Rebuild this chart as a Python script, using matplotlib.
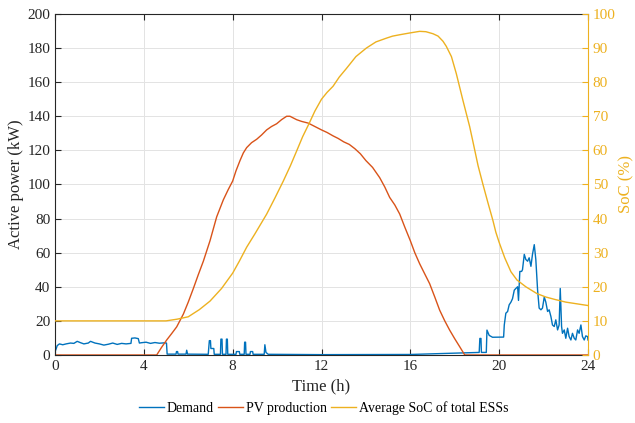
import matplotlib
matplotlib.use("Agg")
import matplotlib.pyplot as plt

plt.rcParams['font.family'] = ['Liberation Serif', 'DejaVu Serif']

# --- data ---
# demand (kW)
t_dem = [0.0, 0.05, 0.1, 0.2, 0.35, 0.5, 0.7, 0.85, 1.0, 1.15, 1.3, 1.5, 1.6, 1.8,
         2.0, 2.2, 2.4, 2.6, 2.8, 3.0, 3.2, 3.42, 3.45, 3.6, 3.75, 3.8, 3.9, 4.1,
         4.3, 4.5, 4.7, 4.9, 5.02, 5.05, 5.45, 5.47, 5.52, 5.54, 5.9, 5.93, 5.97,
         6.9, 6.95, 7.0, 7.02, 7.15, 7.17, 7.45, 7.47, 7.52, 7.54, 7.70, 7.72, 7.76,
         7.78, 8.15, 8.17, 8.30, 8.32, 8.52, 8.54, 8.58, 8.6, 8.78, 8.8, 8.9, 8.92,
         9.42, 9.45, 9.5, 9.6, 12.0, 16.0, 17.5, 18.5, 19.1, 19.13, 19.18, 19.2,
         19.42, 19.45, 19.55, 19.7, 20.2, 20.23, 20.30, 20.38, 20.45, 20.53, 20.60,
         20.68, 20.75, 20.83, 20.87, 20.93, 21.01, 21.05, 21.13, 21.20, 21.28, 21.35,
         21.43, 21.50, 21.58, 21.65, 21.73, 21.80, 21.88, 21.95, 22.03, 22.10, 22.18,
         22.25, 22.33, 22.40, 22.48, 22.55, 22.63, 22.70, 22.75, 22.81, 22.85, 22.93,
         23.00, 23.08, 23.15, 23.23, 23.30, 23.38, 23.45, 23.53, 23.60, 23.68, 23.75,
         23.83, 23.90, 23.98, 24.0]
demand = [2.0, 3.5, 5.5, 6.5, 6.0, 6.5, 7.0, 6.8, 8.0, 7.2, 6.5, 7.0, 8.0, 7.0,
          6.5, 5.8, 6.3, 7.0, 6.2, 6.8, 6.5, 6.8, 9.8, 10.0, 9.6, 7.0, 7.2, 7.5,
          6.8, 7.3, 6.9, 7.1, 7.0, 0.5, 0.5, 2.0, 2.0, 0.5, 0.5, 2.8, 0.5,
          0.4, 8.4, 8.4, 3.8, 3.8, 0.4, 0.4, 9.3, 9.3, 0.4, 0.4, 9.3, 9.3,
          0.4, 0.4, 2.0, 2.0, 0.4, 0.4, 7.5, 7.5, 0.4, 0.4, 2.0, 2.0, 0.4,
          0.4, 6.0, 1.5, 0.4, 0.2, 0.3, 0.9, 1.3, 1.5, 9.7, 9.7, 1.5,
          1.5, 14.6, 11.5, 10.4, 10.5, 17.6, 24.5, 25.5, 29.4, 31.0, 33.0,
          38.0, 39.0, 40.0, 32.0, 49.0, 49.0, 50.0, 59.0, 56.0, 55.0, 57.0,
          52.0, 59.0, 64.7, 56.0, 38.0, 27.5, 26.5, 27.5, 34.0, 31.0, 25.5,
          26.5, 22.5, 17.6, 16.7, 20.6, 14.7, 17.6, 39.0, 16.7, 12.7, 14.7,
          9.8, 15.7, 10.8, 8.8, 12.7, 9.8, 8.8, 14.7, 12.7, 17.6, 10.8,
          8.8, 11.2, 10.8, 8.8]

# PV production (kW)
t_pv = [0.0, 4.58, 4.8, 5.03, 5.25, 5.48, 5.6, 5.78, 6.0, 6.23, 6.45, 6.68,
        6.83, 6.98, 7.13, 7.28, 7.43, 7.58, 7.8, 8.0, 8.15, 8.33, 8.48, 8.63,
        8.85, 9.08, 9.3, 9.53, 9.75, 9.98, 10.2, 10.43, 10.58, 10.88, 11.1,
        11.4, 11.7, 12.0, 12.25, 12.52, 12.75, 13.0, 13.25, 13.5, 13.75, 14.0,
        14.3, 14.62, 14.85, 15.07, 15.3, 15.52, 15.75, 16.0, 16.2, 16.42, 16.65,
        16.87, 17.1, 17.32, 17.55, 17.77, 18.0, 18.22, 18.45, 24.0]
pv = [0, 0, 4.5, 8.8, 12.5, 16.5, 19.5, 24, 31, 39, 47, 55,
      61, 67, 74, 81, 86, 91, 97, 102, 108, 114, 118.5, 121.6,
      124.5, 126.5, 129, 132, 134, 135.6, 138, 140, 140, 138, 137,
      136, 134, 132, 130.5, 128.5, 127, 125, 123.5, 121, 118, 114,
      110, 104, 98.5, 92.4, 88, 82.7, 75, 67, 60, 53.5, 47.5,
      41.8, 34, 26.3, 20, 14.6, 9.5, 4.9, 0, 0]

# average SoC of total ESSs (%)
t_soc = [0.0, 5.0, 5.5, 6.0, 6.5, 6.98, 7.5, 8.0, 8.3, 8.63, 9.0, 9.53, 9.9,
         10.28, 10.6, 10.88, 11.15, 11.45, 11.7, 12.0, 12.25, 12.52, 12.8, 13.12,
         13.55, 14.02, 14.45, 14.92, 15.2, 15.52, 15.95, 16.42, 16.7, 17.02,
         17.25, 17.47, 17.62, 17.85, 18.07, 18.37, 18.67, 18.82, 19.05, 19.27,
         19.5, 19.72, 19.85, 20.0, 20.25, 20.53, 20.8, 21.0, 21.2, 21.45, 21.7,
         22.1, 22.5, 23.0, 23.5, 24.0]
soc = [10, 10, 10.5, 11.2, 13.3, 15.8, 19.5, 24, 27.5, 31.6, 35.5, 41.3, 46,
       51, 55.5, 59.8, 64, 68, 71.5, 75, 77, 78.8, 81.5, 84,
       87.5, 90, 91.8, 92.9, 93.5, 93.9, 94.4, 94.9, 94.8, 94.2,
       93.5, 92, 90.5, 87.5, 82.5, 74.6, 67, 62.5, 55.5, 50,
       44.5, 39.4, 36, 33, 28.5, 24.4, 22, 21, 20, 19, 18,
       17, 16.3, 15.5, 15, 14.5]

c_dem = '#0072BD'
c_pv = '#D95319'
c_soc = '#EDB120'

fig = plt.figure(figsize=(6.35, 4.23), dpi=100)
ax = fig.add_axes([0.0866, 0.1608, 0.8394, 0.8062])
ax2 = ax.twinx()

l1, = ax.plot(t_dem, demand, color=c_dem, lw=1.0, label='Demand')
l2, = ax.plot(t_pv, pv, color=c_pv, lw=1.0, label='PV production')
l3, = ax2.plot(t_soc, soc, color=c_soc, lw=1.0, label='Average SoC of total ESSs')

ax.set_xlim(0, 24)
ax.set_ylim(0, 200)
ax2.set_ylim(0, 100)
ax.set_xticks(range(0, 25, 4))
ax.set_yticks(range(0, 201, 20))
ax2.set_yticks(range(0, 101, 10))

ax.grid(True, color='#e3e3e3', lw=0.7)
ax.set_axisbelow(True)

ax.tick_params(axis='both', direction='in', labelsize=11, length=4, width=0.8,
               top=True, colors='#262626')
ax2.tick_params(axis='y', direction='in', labelsize=11, length=4, width=0.8,
                colors=c_soc)
for s in ['left', 'bottom', 'top']:
    ax.spines[s].set_color('#262626')
    ax.spines[s].set_linewidth(0.8)
ax.spines['right'].set_visible(False)
ax2.spines['right'].set_color(c_soc)
ax2.spines['right'].set_linewidth(0.8)
for s in ['left', 'bottom', 'top']:
    ax2.spines[s].set_visible(False)

ax.set_xlabel('Time (h)', fontsize=12, color='#262626', labelpad=4)
ax.set_ylabel('Active power (kW)', fontsize=12, color='#262626', labelpad=2)
ax2.set_ylabel('SoC (%)', fontsize=12, color=c_soc, labelpad=2)

fig.legend(handles=[l1, l2, l3], loc='center', bbox_to_anchor=(0.51, 0.036),
           ncol=3, frameon=False, fontsize=10, handlelength=1.8,
           handletextpad=0.2, columnspacing=0.3)

fig.savefig('out.png', dpi=100)
